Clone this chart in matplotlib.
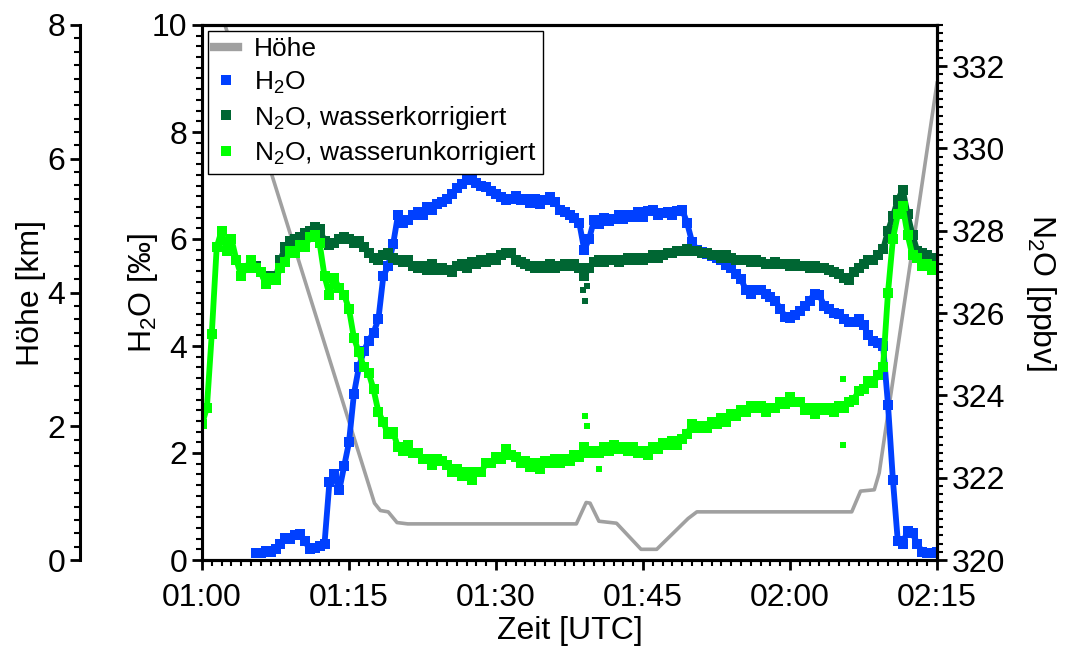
import numpy as np
import matplotlib.pyplot as plt
from matplotlib.ticker import MultipleLocator
from matplotlib.lines import Line2D

plt.rcParams['font.family'] = ['Liberation Sans', 'DejaVu Sans']
plt.rcParams['mathtext.fontset'] = 'custom'
plt.rcParams['mathtext.rm'] = 'Liberation Sans'
plt.rcParams['mathtext.default'] = 'regular'

# Zeit in Minuten nach 01:00 UTC
time_ticks = [0, 15, 30, 45, 60, 75]
time_labels = ["01:00", "01:15", "01:30", "01:45", "02:00", "02:15"]

# Flughoehe [km], Knickpunkte des Profils
hoehe_t = [0, 17.6, 18.2, 19.0, 19.9, 21.0, 38.2, 39.2, 39.6, 40.5, 42.3, 44.8,
           46.4, 49.6, 50.5, 66.3, 67.2, 68.6, 69.1, 75.0]
hoehe_km = [9.1, 0.85, 0.74, 0.72, 0.56, 0.54, 0.54, 0.86, 0.85, 0.58, 0.55, 0.16,
            0.16, 0.62, 0.72, 0.72, 1.03, 1.05, 1.3, 7.13]

# N2O unkorrigiert [ppbv], alle 30 s ab 01:00
t_unkor = np.arange(0, 75.01, 0.5)
n2o_unkor = [
    323.3, 323.7, 325.5, 327.6, 328.0, 327.5, 327.8, 327.3, 326.9, 327.1,
    327.3, 327.1, 327.0, 326.7, 326.85, 326.8, 327.1, 327.25, 327.5, 327.45,
    327.65, 327.6, 327.85, 327.9, 327.7, 326.9, 326.45, 326.85, 326.6, 326.45,
    326.1, 325.4, 325.05, 324.7, 324.55, 324.15, 323.6, 323.35, 323.05, 323.1,
    322.75, 322.65, 322.8, 322.6, 322.6, 322.45, 322.45, 322.3, 322.45, 322.4,
    322.3, 322.15, 322.2, 322.05, 322.15, 321.95, 322.15, 322.15, 322.35, 322.35,
    322.5, 322.45, 322.7, 322.55, 322.5, 322.35, 322.4, 322.25, 322.35, 322.2,
    322.4, 322.35, 322.45, 322.35, 322.45, 322.4, 322.55, 322.5, 322.75, 322.6,
    322.65, 322.6, 322.75, 322.65, 322.8, 322.7, 322.75, 322.65, 322.75, 322.6,
    322.65, 322.55, 322.75, 322.7, 322.85, 322.8, 322.9, 322.8, 322.95, 323.05,
    323.3, 323.2, 323.25, 323.2, 323.35, 323.3, 323.45, 323.35, 323.55, 323.5,
    323.65, 323.6, 323.75, 323.7, 323.75, 323.6, 323.7, 323.7, 323.85, 323.8,
    323.95, 323.85, 323.85, 323.65, 323.7, 323.55, 323.7, 323.65, 323.7, 323.6,
    323.75, 323.7, 323.85, 323.9, 324.1, 324.15, 324.35, 324.3, 324.5, 324.7,
    326.5, 327.8, 328.4, 328.6, 327.9, 327.4, 327.35, 327.15, 327.2, 327.05,
    327.15]

# H2O [permil] und N2O wasserkorrigiert, ab 01:05:30
t_h2o = np.arange(5.5, 75.01, 0.5)
h2o = [
    0.13, 0.13, 0.16, 0.15, 0.2, 0.3, 0.42, 0.4, 0.47,
    0.48, 0.35, 0.2, 0.22, 0.27, 0.3, 1.45, 1.6, 1.3, 1.75,
    2.2, 3.1, 3.6, 3.9, 4.1, 4.25, 4.5, 5.3, 5.5, 5.9,
    6.45, 6.3, 6.35, 6.45, 6.5, 6.45, 6.6, 6.55, 6.65, 6.7,
    6.75, 6.85, 6.95, 7.02, 7.1, 7.12, 7.05, 7.0, 6.98, 6.9,
    6.85, 6.78, 6.72, 6.75, 6.8, 6.72, 6.75, 6.68, 6.75, 6.65,
    6.72, 6.78, 6.7, 6.55, 6.5, 6.45, 6.4, 6.3, 5.8, 6.0,
    6.35, 6.28, 6.4, 6.33, 6.38, 6.45, 6.38, 6.45, 6.42, 6.5,
    6.42, 6.52, 6.55, 6.45, 6.48, 6.5, 6.45, 6.52, 6.55, 6.3,
    5.95, 5.8, 5.75, 5.72, 5.68, 5.65, 5.6, 5.52, 5.45, 5.35,
    5.25, 5.05, 4.98, 5.05, 5.05, 4.98, 4.92, 4.85, 4.7, 4.55,
    4.52, 4.58, 4.65, 4.75, 4.85, 4.98, 4.95, 4.75, 4.7, 4.62,
    4.6, 4.5, 4.45, 4.45, 4.5, 4.4, 4.2, 4.1, 4.05, 4.0,
    2.9, 1.5, 0.35, 0.3, 0.55, 0.5, 0.3, 0.15, 0.13, 0.13,
    0.15]
n2o_kor = [
    327.15, 327.0, 326.75, 326.9, 326.85, 327.3, 327.6, 327.75, 327.8,
    327.85, 327.95, 328.0, 328.1, 328.05, 327.75, 327.65, 327.7, 327.8, 327.85,
    327.8, 327.7, 327.75, 327.6, 327.45, 327.35, 327.3, 327.4, 327.45, 327.35,
    327.3, 327.25, 327.3, 327.15, 327.1, 327.15, 327.05, 327.2, 327.05, 327.1,
    327.05, 327.0, 327.15, 327.2, 327.1, 327.25, 327.2, 327.3, 327.25, 327.35,
    327.3, 327.4, 327.45, 327.45, 327.3, 327.25, 327.2, 327.15, 327.1, 327.15,
    327.1, 327.2, 327.1, 327.15, 327.2, 327.15, 327.2, 327.1, 326.9, 327.1,
    327.25, 327.3, 327.25, 327.3, 327.3, 327.25, 327.3, 327.35, 327.3, 327.35,
    327.3, 327.35, 327.4, 327.35, 327.4, 327.45, 327.45, 327.5, 327.5, 327.55,
    327.5, 327.5, 327.45, 327.45, 327.4, 327.4, 327.35, 327.4, 327.35, 327.3,
    327.3, 327.3, 327.25, 327.3, 327.25, 327.2, 327.2, 327.25, 327.2, 327.2,
    327.15, 327.2, 327.15, 327.15, 327.1, 327.15, 327.1, 327.1, 327.05, 327.0,
    326.95, 326.85, 326.8, 327.0, 327.1, 327.2, 327.3, 327.3, 327.4, 327.55,
    328.0, 328.35, 328.75, 329.0, 328.4, 327.9, 327.5, 327.45, 327.4, 327.35,
    327.35]

# einzelne Ausreisser
kor_extra_t = [38.9, 39.1, 39.3]
kor_extra = [326.55, 326.3, 326.65]
unkor_extra_t = [39.1, 39.3, 40.5, 65.4, 65.4]
unkor_extra = [323.5, 323.25, 322.2, 324.4, 322.8]

c_hoehe = '#a0a0a0'
c_h2o = '#0040ff'
c_kor = '#006633'
c_unkor = '#00ff00'

fs_tick = 23
fs_label = 23
spine_lw = 2.2
pts = dict(marker='s', ms=7, mew=0, lw=4.2, solid_joinstyle='bevel')

fig = plt.figure(figsize=(10.67, 6.61), dpi=100)
ax_h = fig.add_axes([202 / 1067, 101 / 661, 735 / 1067, 535 / 661])
ax_w = ax_h.twinx()
ax_n = ax_h.twinx()

# Hoehe (unterste Ebene)
ax_h.plot(hoehe_t, hoehe_km, color=c_hoehe, lw=2.6, solid_joinstyle='round')
ax_h.set_ylim(0, 8)
ax_h.set_xlim(0, 75)
ax_h.spines['left'].set_position(('outward', 122 * 0.72))
ax_h.yaxis.set_major_locator(MultipleLocator(2))
ax_h.yaxis.set_minor_locator(MultipleLocator(0.2))
ax_h.set_ylabel('Höhe [km]', fontsize=fs_label)
ax_h.yaxis.set_label_coords(-0.212, 0.5)

# H2O
ax_w.plot(t_h2o, h2o, color=c_h2o, **pts)
ax_w.set_ylim(0, 10)
ax_w.yaxis.tick_left()
ax_w.yaxis.set_label_position('left')
ax_w.yaxis.set_major_locator(MultipleLocator(2))
ax_w.yaxis.set_minor_locator(MultipleLocator(0.2))
ax_w.set_ylabel('H$_2$O [‰]', fontsize=fs_label)
ax_w.yaxis.set_label_coords(-0.057, 0.5)

# N2O
ax_n.plot(t_h2o, n2o_kor, color=c_kor, **pts)
ax_n.plot(kor_extra_t, kor_extra, ls='none', marker='s', ms=5, mew=0, color=c_kor)
ax_n.plot(t_unkor, n2o_unkor, color=c_unkor, **pts)
ax_n.plot(unkor_extra_t, unkor_extra, ls='none', marker='s', ms=5, mew=0, color=c_unkor)
ax_n.set_ylim(320, 333)
ax_n.yaxis.set_major_locator(MultipleLocator(2))
ax_n.yaxis.set_minor_locator(MultipleLocator(0.2))
ax_n.set_ylabel('N$_2$O [ppbv]', fontsize=fs_label, rotation=-90, va='bottom')
ax_n.yaxis.set_label_coords(1.118, 0.5)

ax_h.set_xticks(time_ticks)
ax_h.set_xticklabels(time_labels)
ax_h.xaxis.set_minor_locator(MultipleLocator(1))
ax_h.set_xlabel('Zeit [UTC]', fontsize=fs_label, labelpad=2)

for ax in (ax_h, ax_w, ax_n):
    for sp in ax.spines.values():
        sp.set_linewidth(spine_lw)
    ax.tick_params(which='major', direction='out', length=7.5, width=2,
                   labelsize=fs_tick, pad=3)
    ax.tick_params(which='minor', direction='out', length=4, width=1.5)
ax_h.tick_params(axis='x', which='both', top=False)
ax_h.tick_params(axis='x', which='major', pad=9)

handles = [
    Line2D([], [], color=c_hoehe, lw=6),
    Line2D([], [], ls='none', marker='s', ms=7, mew=0, color=c_h2o),
    Line2D([], [], ls='none', marker='s', ms=7, mew=0, color=c_kor),
    Line2D([], [], ls='none', marker='s', ms=7, mew=0, color=c_unkor),
]
labels = ['Höhe', 'H$_2$O', 'N$_2$O, wasserkorrigiert', 'N$_2$O, wasserunkorrigiert']
leg = ax_n.legend(handles, labels, loc='upper left', bbox_to_anchor=(0.008, 0.989),
                  borderaxespad=0, fontsize=19, frameon=True, fancybox=False,
                  framealpha=1, edgecolor='black', borderpad=0.25,
                  handlelength=0.9, handletextpad=0.6, labelspacing=0.3)
leg.get_frame().set_linewidth(1.0)

fig.savefig('out.png', dpi=100)
